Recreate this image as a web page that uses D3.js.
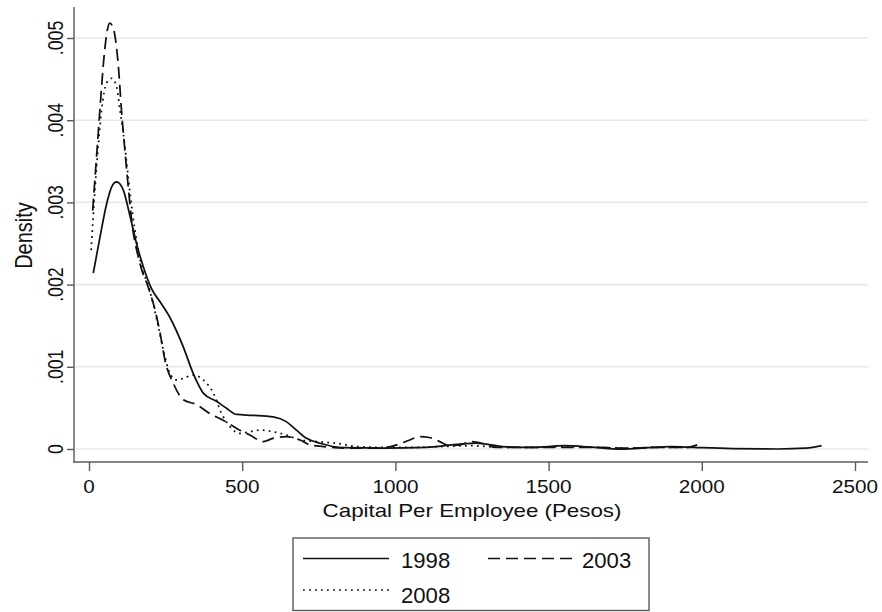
<!DOCTYPE html>
<html>
<head>
<meta charset="utf-8">
<script src="https://cdn.jsdelivr.net/npm/d3@7"></script>
<style>
  html, body { margin: 0; padding: 0; background: #fff; }
  svg { display: block; }
  text { font-family: "Liberation Sans", Arial, Helvetica, sans-serif; fill: #111; }
</style>
</head>
<body>
<svg id="chart" width="882" height="612"></svg>
<script>
// Kernel density estimates of capital per employee, by survey year
const series1998 = [
  [14, 0.00214], [36, 0.00258], [58, 0.00299], [74, 0.00319], [90, 0.00325],
  [112, 0.00315], [134, 0.00283], [155, 0.00250], [177, 0.00222], [204, 0.00195],
  [234, 0.00178], [264, 0.00160], [308, 0.00124], [340, 0.00092], [373, 0.00068],
  [416, 0.00058], [449, 0.000495], [482, 0.00042], [535, 0.00041], [601, 0.00039],
  [645, 0.00033], [677, 0.00023], [710, 0.00013], [754, 0.00007], [830, 0.000016],
  [960, 0.00001], [1100, 0.00002], [1211, 0.00006], [1265, 0.00007], [1350, 0.00003],
  [1450, 0.00002], [1550, 0.00004], [1650, 0.00002], [1733, 0.0], [1841, 0.00002],
  [1900, 0.00003], [1973, 0.00002], [2100, 0.000005], [2250, 0.0], [2340, 0.00001],
  [2391, 0.00004]
];
const series2003 = [
  [12, 0.00290], [27, 0.00368], [38, 0.00425], [49, 0.00477], [60, 0.00510],
  [68, 0.00518], [77, 0.00514], [85, 0.00502], [96, 0.00465], [106, 0.00412],
  [117, 0.00364], [128, 0.00319], [139, 0.00279], [166, 0.00226], [195, 0.00195],
  [215, 0.00170], [232, 0.00141], [248, 0.00108], [275, 0.00080], [308, 0.00060],
  [351, 0.00054], [395, 0.00043], [438, 0.00035], [482, 0.00025], [525, 0.00017],
  [569, 0.00009], [600, 0.00013], [645, 0.00015], [689, 0.00011], [721, 0.00005],
  [765, 0.00003], [850, 0.00001], [950, 0.00001], [1004, 0.00005], [1040, 0.00010],
  [1080, 0.00015], [1110, 0.00014], [1145, 0.00009], [1175, 0.00004], [1210, 0.00005],
  [1250, 0.00009], [1280, 0.00007], [1330, 0.00002], [1450, 0.00002], [1550, 0.00002],
  [1650, 0.00002], [1750, 0.00001], [1850, 0.00002], [1950, 0.00002], [1985, 0.00005]
];
const series2008 = [
  [7, 0.00242], [20, 0.00319], [30, 0.00368], [41, 0.00412], [57, 0.00445],
  [74, 0.00451], [90, 0.00441], [101, 0.00412], [112, 0.00384], [123, 0.00348],
  [134, 0.00311], [150, 0.00266], [172, 0.00222], [194, 0.00198], [210, 0.00176],
  [226, 0.00149], [243, 0.00120], [264, 0.00092], [286, 0.00084], [308, 0.00086],
  [340, 0.00090], [373, 0.00084], [406, 0.00068], [433, 0.00043], [460, 0.00027],
  [493, 0.00019], [525, 0.00021], [558, 0.00023], [601, 0.00021], [645, 0.00017],
  [689, 0.00011], [743, 0.00009], [808, 0.00007], [874, 0.00003], [950, 0.00002],
  [1050, 0.00002], [1150, 0.00003], [1250, 0.00004], [1350, 0.00002], [1450, 0.00002],
  [1550, 0.00003], [1650, 0.00002], [1750, 0.00001], [1850, 0.00002], [1950, 0.00002],
  [1990, 0.00003]
];

const xTicks = [0, 500, 1000, 1500, 2000, 2500];
const yTicks = [0, 0.001, 0.002, 0.003, 0.004, 0.005];
const yTickLabels = ["0", ".001", ".002", ".003", ".004", ".005"];
const seriesNames = ["1998", "2003", "2008"];

const svg = d3.select("#chart");

// Plot region edges (where the axis lines sit)
const plotLeft = 74, plotRight = 868, plotTop = 7, plotBottom = 462;

const x = d3.scaleLinear().domain([0, 2500]).range([89, 855]);
const y = d3.scaleLinear().domain([0, 0.005]).range([449, 38]);

const ink = "#111";
const axisColor = "#5a5a5a";

// Horizontal gridlines
svg.append("g")
  .selectAll("line")
  .data(yTicks)
  .join("line")
  .attr("x1", plotLeft + 1)
  .attr("x2", plotRight)
  .attr("y1", d => y(d))
  .attr("y2", d => y(d))
  .attr("stroke", "#e8e8e8")
  .attr("stroke-width", 1.6);

// Density curves
const line = d3.line()
  .x(d => x(d[0]))
  .y(d => y(d[1]))
  .curve(d3.curveMonotoneX);

const styles = {
  "1998": { dash: null, data: series1998 },
  "2003": { dash: "12,6", data: series2003 },
  "2008": { dash: "1.8,4.2", data: series2008 }
};

svg.append("g")
  .selectAll("path")
  .data(seriesNames)
  .join("path")
  .attr("d", k => line(styles[k].data))
  .attr("fill", "none")
  .attr("stroke", ink)
  .attr("stroke-width", 1.75)
  .attr("stroke-dasharray", k => styles[k].dash);

// Y axis
const yAxis = d3.axisLeft(y)
  .tickValues(yTicks)
  .tickSize(7)
  .tickFormat("");
const gy = svg.append("g")
  .attr("transform", `translate(${plotLeft},0)`)
  .call(yAxis);
gy.select(".domain").remove();
gy.selectAll(".tick line").attr("stroke", axisColor).attr("stroke-width", 1.4);
gy.append("line")
  .attr("x1", 0).attr("x2", 0)
  .attr("y1", plotTop).attr("y2", plotBottom + 0.7)
  .attr("stroke", axisColor).attr("stroke-width", 1.4);

svg.append("g")
  .selectAll("text")
  .data(yTicks)
  .join("text")
  .attr("transform", d => `translate(63,${y(d)}) rotate(-90) scale(1,1.2)`)
  .attr("text-anchor", "middle")
  .attr("font-size", 17.7)
  .text((d, i) => yTickLabels[i]);

// X axis
const xAxis = d3.axisBottom(x)
  .tickValues(xTicks)
  .tickSize(9)
  .tickFormat("");
const gx = svg.append("g")
  .attr("transform", `translate(0,${plotBottom})`)
  .call(xAxis);
gx.select(".domain").remove();
gx.selectAll(".tick line").attr("stroke", axisColor).attr("stroke-width", 1.4);
gx.append("line")
  .attr("x1", plotLeft - 0.7).attr("x2", plotRight)
  .attr("y1", 0).attr("y2", 0)
  .attr("stroke", axisColor).attr("stroke-width", 1.4);

svg.append("g")
  .selectAll("text")
  .data(xTicks)
  .join("text")
  .attr("transform", d => `translate(${x(d)},493) scale(1.17,1)`)
  .attr("text-anchor", "middle")
  .attr("font-size", 17.7)
  .text(d => d);

// Axis titles
const midX = (plotLeft + plotRight) / 2 + 1;
const midY = (plotTop + plotBottom) / 2 + 1;
svg.append("text")
  .attr("transform", `translate(${midX},517) scale(1.2,1)`)
  .attr("text-anchor", "middle")
  .attr("font-size", 18.6)
  .text("Capital Per Employee (Pesos)");

svg.append("text")
  .attr("transform", `translate(31.5,${midY}) rotate(-90) scale(1,1.2)`)
  .attr("text-anchor", "middle")
  .attr("font-size", 20)
  .text("Density");

// Legend
const legend = svg.append("g");
legend.append("rect")
  .attr("x", 293).attr("y", 538)
  .attr("width", 356).attr("height", 72.5)
  .attr("fill", "#fff")
  .attr("stroke", axisColor)
  .attr("stroke-width", 1.4);

const legendItems = [
  { key: "1998", x1: 303, x2: 389, ly: 558.5, tx: 401, ty: 568.3 },
  { key: "2003", x1: 488, x2: 573, ly: 558.5, tx: 582, ty: 568.3 },
  { key: "2008", x1: 303, x2: 389, ly: 590, tx: 401, ty: 603.3 }
];

legend.selectAll("line")
  .data(legendItems)
  .join("line")
  .attr("x1", d => d.x1).attr("x2", d => d.x2)
  .attr("y1", d => d.ly).attr("y2", d => d.ly)
  .attr("stroke", ink)
  .attr("stroke-width", 1.7)
  .attr("stroke-dasharray", d => styles[d.key].dash);

legend.selectAll("text")
  .data(legendItems)
  .join("text")
  .attr("transform", d => `translate(${d.tx},${d.ty}) scale(1.03,1)`)
  .attr("font-size", 21.5)
  .text(d => d.key);
</script>
</body>
</html>
